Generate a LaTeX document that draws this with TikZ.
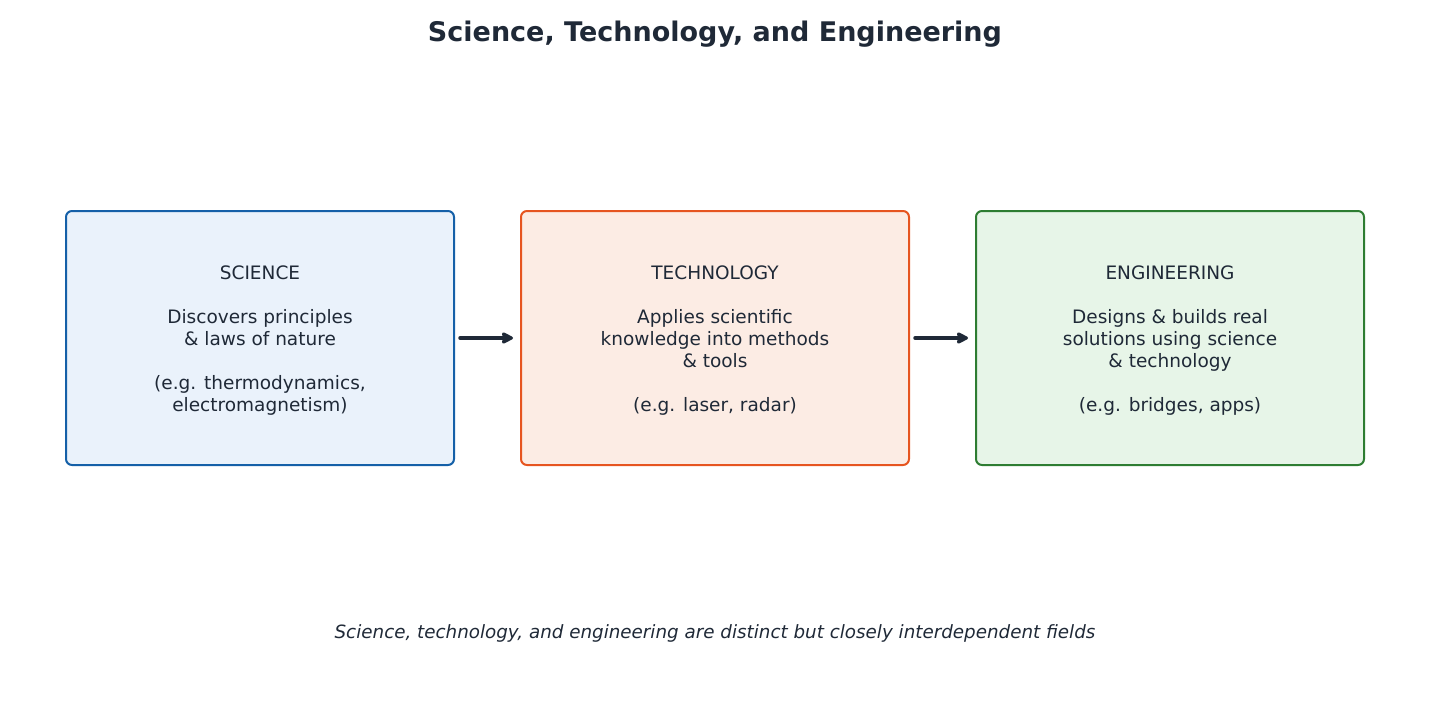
\documentclass[tikz,border=0pt]{standalone}
\usepackage{fontspec}
\setmainfont{DejaVu Sans}
\usetikzlibrary{arrows.meta}
\definecolor{ink}{HTML}{1F2937}
\definecolor{sciB}{HTML}{1560A8}\definecolor{sciF}{HTML}{EAF2FB}
\definecolor{tecB}{HTML}{E65520}\definecolor{tecF}{HTML}{FCECE4}
\definecolor{engB}{HTML}{2E7D32}\definecolor{engF}{HTML}{E7F5E8}
\tikzset{
  card/.style={draw, line width=2pt, rounded corners=6pt, minimum width=388pt, minimum height=254pt, inner sep=0pt},
  cardtext/.style={align=center, text=ink, font=\fontsize{18.5}{22}\selectfont, inner sep=0pt, yshift=-3pt},
  flow/.style={draw=ink, line width=3.5pt, line cap=round, -{Stealth[length=13pt,width=13pt,inset=1pt,round]}, shorten <=5pt, shorten >=7pt}
}
\begin{document}
\begin{tikzpicture}[x=1pt,y=-1pt]
\useasboundingbox (0,0) rectangle (1430,728);
\node (title) at (715,34) {\fontsize{27}{32}\selectfont\bfseries\color{ink}Science, Technology, and Engineering};
\node[card, draw=sciB, fill=sciF] (sci) at (260,338) {};
\node[card, draw=tecB, fill=tecF] (tec) at (715,338) {};
\node[card, draw=engB, fill=engF] (eng) at (1170,338) {};
\node[cardtext] (scit) at (sci.center) {SCIENCE\\[22pt]Discovers principles\\\& laws of nature\\[22pt](e.g. thermodynamics,\\electromagnetism)};
\node[cardtext] (tect) at (tec.center) {TECHNOLOGY\\[22pt]Applies scientific\\knowledge into methods\\\& tools\\[22pt](e.g. laser, radar)};
\node[cardtext] (engt) at (eng.center) {ENGINEERING\\[22pt]Designs \& builds real\\solutions using science\\\& technology\\[22pt](e.g. bridges, apps)};
\draw[flow] (sci) -- (tec);
\draw[flow] (tec) -- (eng);
\node (cap) at (715,633) {\fontsize{18.3}{22}\selectfont\itshape\color{ink}Science, technology, and engineering are distinct but closely interdependent fields};
\end{tikzpicture}
\end{document}
